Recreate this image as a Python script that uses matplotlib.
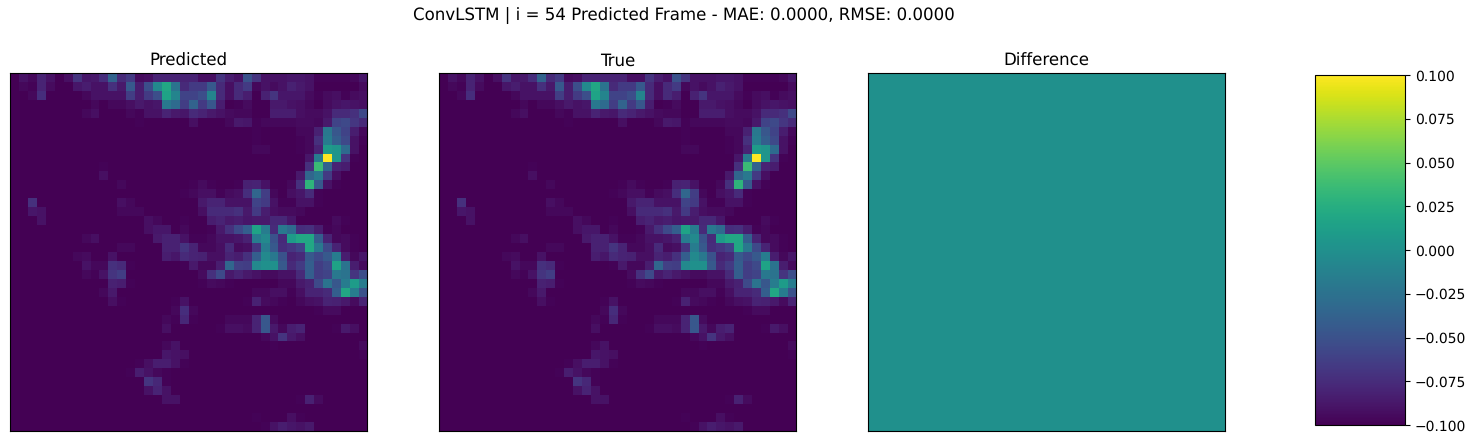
import numpy as np
import matplotlib
matplotlib.use("Agg")
import matplotlib.pyplot as plt

plt.rcParams["text.hinting"] = "no_hinting"

# Frame intensity, in hundredths of the frame maximum
true_rows = [
    [0,5,2,10,5,0,4,15,6,7, 13,32,12,17,3,4,10,10,10,10, 10,4,4,15,8,5,25,15,5,5, 5,6,6,5,1,1,1,1,2,6],
    [0,2,1,10,3,0,0,6,8,5, 5,14,7,28,8,24,47,60,38,12, 17,17,28,12,4,12,17,2,5,3, 5,9,7,5,0,0,0,0,0,3],
    [0,0,2,13,0,0,0,0,2,5, 5,5,5,18,8,17,24,58,45,20, 20,24,45,12,4,12,8,0,9,15, 6,6,6,3,1,3,4,1,3,4],
    [0,0,0,0,0,0,0,0,0,2, 0,2,2,4,7,5,6,40,35,18, 32,17,27,8,0,1,3,0,0,7, 7,5,4,2,0,3,5,6,5,4],
    [0,0,0,0,0,0,0,0,2,4, 0,0,0,2,1,5,5,10,7,6, 12,10,7,5,3,2,2,0,0,8, 8,8,4,3,3,5,12,12,14,22],
    [0,0,0,0,0,0,0,0,0,0, 0,0,0,0,1,0,0,0,0,0, 4,0,0,0,2,7,6,1,2,2, 2,2,3,3,2,7,20,22,16,12],
    [0,0,0,0,0,0,0,0,0,0, 0,0,0,0,0,0,0,0,0,0, 0,0,0,0,0,0,0,1,0,0, 0,0,2,2,9,40,27,20,8,2],
    [0,0,0,0,0,0,0,0,0,0, 0,0,0,0,0,0,0,0,0,0, 0,0,0,0,0,0,0,1,0,0, 0,0,1,2,14,42,30,22,5,1],
    [0,0,0,0,0,0,0,0,0,0, 0,0,0,0,0,0,0,0,0,0, 0,0,0,0,0,0,0,2,2,0, 0,0,1,2,10,55,52,35,5,0],
    [0,0,0,0,0,0,0,0,0,0, 0,0,0,0,0,0,0,0,0,0, 0,0,0,0,0,0,0,0,0,0, 0,0,0,6,42,100,52,15,1,0],
    [0,0,0,0,0,0,0,0,0,0, 1,0,0,0,0,0,0,0,0,0, 0,0,0,0,0,0,0,0,0,0, 0,0,0,14,68,32,10,8,0,0],
    [0,0,0,0,0,0,0,0,0,0, 4,0,0,0,0,0,0,0,0,0, 0,0,0,0,0,0,0,0,0,0, 0,0,7,33,40,17,4,0,0,0],
    [0,0,0,0,0,0,0,0,0,0, 0,0,2,0,0,0,0,0,0,0, 1,3,1,0,0,1,9,10,5,0, 0,2,14,65,28,5,1,0,0,0],
    [0,0,0,0,0,0,0,0,0,0, 0,0,0,0,0,0,0,0,0,1, 2,4,4,1,3,4,13,33,18,2, 0,4,6,12,1,0,0,0,0,0],
    [0,0,14,0,0,0,0,0,0,0, 0,0,4,2,0,0,0,0,0,0, 0,7,10,10,5,5,5,20,17,5, 1,1,5,5,1,0,0,0,0,0],
    [0,0,6,5,0,0,0,0,0,0, 0,0,2,2,2,0,0,0,0,0, 0,4,12,12,12,14,7,17,8,4, 3,3,2,0,0,0,0,0,0,0],
    [0,0,0,5,0,0,0,0,0,0, 0,0,0,0,0,4,2,0,0,1, 0,0,8,10,7,8,6,7,7,11, 11,6,0,0,0,0,3,1,0,0],
    [0,0,0,0,0,0,0,0,0,0, 0,0,0,0,0,4,6,6,0,2, 0,0,1,7,14,22,30,58,42,12, 40,35,13,14,8,1,2,0,0,0],
    [0,0,0,0,0,0,0,0,2,4, 0,0,0,0,0,0,7,9,9,5, 1,1,2,5,5,6,9,42,47,25, 12,55,60,60,30,10,2,3,1,0],
    [0,0,0,0,0,0,0,0,0,0, 0,0,2,2,0,0,0,9,9,15, 10,2,2,4,12,3,4,15,42,28, 13,16,20,60,40,22,10,3,1,0],
    [0,0,0,0,0,0,0,2,3,0, 0,5,0,0,0,0,0,8,6,12, 10,9,4,4,10,8,14,30,47,40, 25,10,12,28,22,28,42,8,2,6],
    [0,0,0,0,0,0,0,0,5,2, 2,14,12,1,0,0,0,0,0,1, 7,2,2,8,33,19,18,47,50,50, 28,12,17,30,18,22,58,38,8,3],
    [0,0,0,0,0,0,0,0,2,1, 5,15,18,0,0,0,0,0,0,0, 0,3,14,22,7,10,7,5,3,3, 5,5,12,30,18,20,40,38,15,24],
    [0,0,0,0,0,0,0,0,0,0, 0,9,8,1,0,0,0,0,0,0, 0,1,3,2,1,0,0,0,0,0, 2,2,7,9,22,38,27,42,55,42],
    [0,0,0,0,0,0,0,0,0,0, 2,7,0,0,0,0,0,0,0,0, 0,0,0,0,0,0,0,2,2,4, 4,1,4,10,10,12,30,60,42,25],
    [0,0,0,0,0,0,0,0,0,0, 0,4,1,0,0,0,0,0,1,5, 0,0,0,0,0,0,1,9,3,2, 1,0,2,4,5,10,9,7,3,10],
    [0,0,0,0,0,0,0,0,0,0, 0,0,0,0,0,0,0,0,2,13, 2,0,0,0,0,0,0,0,0,0, 0,0,0,0,1,3,3,0,0,0],
    [0,0,0,0,0,0,0,0,0,0, 0,0,0,0,0,0,0,2,1,11, 1,0,0,0,2,2,2,10,27,3, 0,0,0,0,0,0,0,0,0,0],
    [0,0,0,0,0,0,0,0,0,0, 0,0,0,0,0,0,0,4,0,0, 0,0,0,1,4,4,3,10,27,7, 2,8,10,0,0,0,1,7,4,0],
    [0,0,0,0,0,0,0,0,0,0, 0,0,0,0,0,0,0,0,0,0, 0,0,0,0,0,0,0,0,2,5, 15,7,4,0,0,0,0,0,0,0],
    [0,0,0,0,0,0,0,0,0,0, 0,0,0,0,0,0,0,2,5,0, 0,0,0,0,0,0,0,0,0,1, 0,0,0,0,0,0,0,0,0,3],
    [0,0,0,0,0,0,0,0,0,0, 0,0,0,0,0,0,0,6,5,4, 0,0,0,0,0,0,0,0,0,0, 0,0,0,0,0,0,0,0,0,1],
    [0,0,0,0,0,0,0,0,0,0, 0,0,0,0,1,4,8,8,5,1, 0,0,0,0,0,0,0,0,0,0, 0,0,0,0,0,0,0,0,0,0],
    [0,0,0,0,0,0,0,0,0,0, 0,0,0,1,8,5,2,1,0,0, 0,0,0,0,0,0,0,0,0,0, 0,0,0,0,0,0,0,0,0,0],
    [0,0,0,0,0,0,0,0,0,0, 0,0,0,0,0,15,11,1,0,0, 0,0,0,0,0,0,0,0,0,0, 0,0,0,0,0,0,0,0,0,0],
    [0,0,0,0,0,0,0,0,0,0, 0,0,0,0,0,5,10,5,0,0, 0,0,0,0,0,0,0,0,0,0, 0,0,0,0,0,0,0,0,0,0],
    [0,0,0,0,0,0,0,0,0,0, 0,0,0,0,0,0,0,5,5,0, 0,0,0,0,0,0,0,0,0,0, 0,0,1,9,3,0,0,0,0,0],
    [0,0,0,0,0,0,0,0,0,0, 0,0,0,0,0,0,0,0,0,0, 0,0,0,0,0,0,0,0,0,0, 0,0,0,0,0,0,0,0,0,0],
    [0,0,0,0,0,0,0,0,0,0, 0,0,0,0,0,0,0,0,0,0, 0,0,0,0,0,0,0,1,0,0, 0,4,1,0,0,0,0,0,0,0],
    [0,0,0,0,0,0,0,0,0,0, 0,0,0,0,0,0,0,0,0,0, 0,0,0,0,0,0,0,0,1,5, 8,6,5,7,0,0,0,0,0,0],
]
panel_titles = ["Predicted", "True", "Difference"]
suptitle = "ConvLSTM | i = 54 Predicted Frame - MAE: 0.0000, RMSE: 0.0000"

true_frame = np.array(true_rows, dtype=float) / 100.0
pred_frame = true_frame.copy()
diff_frame = pred_frame - true_frame

W, H = 1476, 443
fig = plt.figure(figsize=(W / 100, H / 100), dpi=100)


def px_axes(x0, y0, x1, y1):
    return fig.add_axes([x0 / W, 1 - y1 / H, (x1 - x0) / W, (y1 - y0) / H])


lefts = [10.0, 439.4, 868.0]
frames = [pred_frame, true_frame, diff_frame]
limits = [(0, 1), (0, 1), (-0.1, 0.1)]
for left, frame, title, (lo, hi) in zip(lefts, frames, panel_titles, limits):
    ax = px_axes(left, 73, left + 357, 431)
    im = ax.imshow(frame, cmap="viridis", vmin=lo, vmax=hi, aspect="auto",
                   interpolation="nearest")
    ax.set_xticks([])
    ax.set_yticks([])
    ax.set_title(title, fontsize=12, pad=5.3)

cax = px_axes(1315, 75, 1405, 425)
cb = fig.colorbar(im, cax=cax)
cb.ax.tick_params(labelsize=10)

fig.text(684.2 / W, 1 - 16.5 / H, suptitle, ha="center", va="center", fontsize=12)
fig.savefig("out.png", dpi=100)
